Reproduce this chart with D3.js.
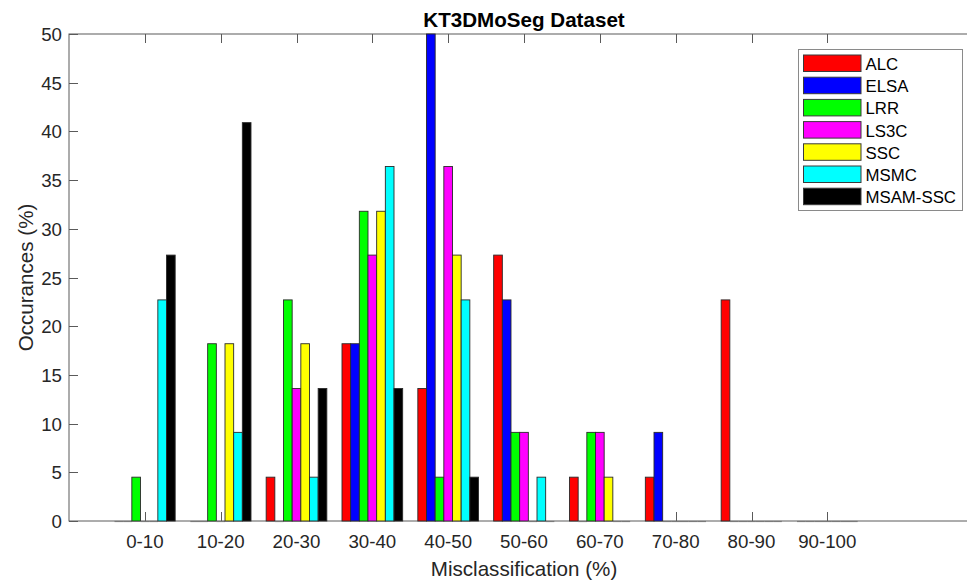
<!DOCTYPE html>
<html>
<head>
<meta charset="utf-8">
<script src="https://cdn.jsdelivr.net/npm/d3@7/dist/d3.min.js"></script>
<style>
  html, body { margin: 0; padding: 0; background: #fff; }
  svg { display: block; font-family: "Liberation Sans", Arial, sans-serif; }
</style>
</head>
<body>
<svg id="chart" width="967" height="583"></svg>
<script>
// Misclassification bins
const categories = ["0-10", "10-20", "20-30", "30-40", "40-50", "50-60", "60-70", "70-80", "80-90", "90-100"];
const seriesNames = ["ALC", "ELSA", "LRR", "LS3C", "SSC", "MSMC", "MSAM-SSC"];
const seriesColors = ["#ff0000", "#0000ff", "#00ff00", "#ff00ff", "#ffff00", "#00ffff", "#000000"];

// Occurrence (%) per bin, one array per method
const ALC     = [0, 0, 4.5, 18.2, 13.6, 27.3, 4.5, 4.5, 22.7, 0];
const ELSA    = [0, 0, 0, 18.2, 50, 22.7, 0, 9.1, 0, 0];
const LRR     = [4.5, 18.2, 22.7, 31.8, 4.5, 9.1, 9.1, 0, 0, 0];
const LS3C    = [0, 0, 13.6, 27.3, 36.4, 9.1, 9.1, 0, 0, 0];
const SSC     = [0, 18.2, 18.2, 31.8, 27.3, 0, 4.5, 0, 0, 0];
const MSMC    = [22.7, 9.1, 4.5, 36.4, 22.7, 4.5, 0, 0, 0, 0];
const MSAMSSC = [27.3, 40.9, 13.6, 13.6, 4.5, 0, 0, 0, 0, 0];

const yTicks = [0, 5, 10, 15, 20, 25, 30, 35, 40, 45, 50];

const seriesValues = [ALC, ELSA, LRR, LS3C, SSC, MSMC, MSAMSSC];

const svg = d3.select("#chart");

const plotLeft = 69, plotRight = 979, plotTop = 34, plotBottom = 521;
const axisColor = "#5a5a5a";
const textColor = "#262626";
const tickFont = 18.7, labelFont = 20.6;

// x is the category index (1..10) on a numeric axis spanning 0..12
const x = d3.scaleLinear().domain([0, 12]).range([plotLeft, plotRight]);
const y = d3.scaleLinear().domain([0, 50]).range([plotBottom, plotTop]);

const nSeries = seriesNames.length;
const groupWidth = 0.8;
const slot = groupWidth / nSeries;

// Axes box and inward ticks (drawn beneath the bars)
const axisG = svg.append("g");
axisG.append("rect")
  .attr("x", plotLeft).attr("y", plotTop)
  .attr("width", plotRight - plotLeft).attr("height", plotBottom - plotTop)
  .attr("fill", "none").attr("stroke", axisColor).attr("stroke-width", 1);

const tickLen = 9;
categories.forEach((c, i) => {
  const xp = Math.round(x(i + 1)) + 0.5;
  axisG.append("line").attr("x1", xp).attr("x2", xp)
    .attr("y1", plotBottom).attr("y2", plotBottom - tickLen)
    .attr("stroke", axisColor);
  axisG.append("line").attr("x1", xp).attr("x2", xp)
    .attr("y1", plotTop).attr("y2", plotTop + tickLen)
    .attr("stroke", axisColor);
});
yTicks.forEach(t => {
  const yp = Math.round(y(t)) + 0.5;
  axisG.append("line").attr("x1", plotLeft).attr("x2", plotLeft + tickLen)
    .attr("y1", yp).attr("y2", yp).attr("stroke", axisColor);
  axisG.append("line").attr("x1", plotRight).attr("x2", plotRight - tickLen)
    .attr("y1", yp).attr("y2", yp).attr("stroke", axisColor);
});

// Bars
const barsG = svg.append("g");
seriesValues.forEach((vals, s) => {
  vals.forEach((v, i) => {
    const x0 = x(i + 1 - groupWidth / 2 + s * slot);
    const x1 = x(i + 1 - groupWidth / 2 + (s + 1) * slot);
    if (v > 0) {
      barsG.append("rect")
        .attr("x", x0).attr("y", y(v))
        .attr("width", x1 - x0).attr("height", y(0) - y(v))
        .attr("fill", seriesColors[s])
        .attr("stroke", "#2a2a2a").attr("stroke-width", 0.9);
    } else {
      // zero-height bars collapse to a flat edge on the baseline
      barsG.append("line")
        .attr("x1", x0).attr("x2", x1)
        .attr("y1", y(0) + 0.5).attr("y2", y(0) + 0.5)
        .attr("stroke", "#7a7a7a").attr("stroke-width", 1.2);
    }
  });
});

// Tick labels
const labelsG = svg.append("g").attr("fill", textColor).attr("font-size", tickFont);
categories.forEach((c, i) => {
  labelsG.append("text").attr("x", x(i + 1)).attr("y", 548)
    .attr("text-anchor", "middle").text(c);
});
yTicks.forEach(t => {
  labelsG.append("text").attr("x", plotLeft - 7).attr("y", y(t) + 7)
    .attr("text-anchor", "end").text(t);
});

// Axis titles and chart title
svg.append("text")
  .attr("x", (plotLeft + plotRight) / 2).attr("y", 576)
  .attr("text-anchor", "middle").attr("font-size", labelFont).attr("fill", textColor)
  .text("Misclassification (%)");

svg.append("text")
  .attr("transform", `translate(33, ${(plotTop + plotBottom) / 2}) rotate(-90)`)
  .attr("text-anchor", "middle").attr("font-size", labelFont).attr("fill", textColor)
  .text("Occurances (%)");

svg.append("text")
  .attr("x", (plotLeft + plotRight) / 2).attr("y", 27)
  .attr("text-anchor", "middle").attr("font-size", labelFont)
  .attr("font-weight", "bold").attr("fill", "#000")
  .text("KT3DMoSeg Dataset");

// Legend
const legend = svg.append("g");
legend.append("rect")
  .attr("x", 798.5).attr("y", 49.5).attr("width", 164).attr("height", 161)
  .attr("fill", "#fff").attr("stroke", "#8a8a8a").attr("stroke-width", 1);
seriesNames.forEach((name, s) => {
  const ry = 55 + s * 22.2;
  legend.append("rect")
    .attr("x", 803.5).attr("y", ry).attr("width", 57.5).attr("height", 16.5)
    .attr("fill", seriesColors[s]).attr("stroke", "#3a3a3a").attr("stroke-width", 1);
  legend.append("text")
    .attr("x", 865.5).attr("y", ry + 15)
    .attr("font-size", 16.8).attr("fill", "#000")
    .text(name);
});
</script>
</body>
</html>
